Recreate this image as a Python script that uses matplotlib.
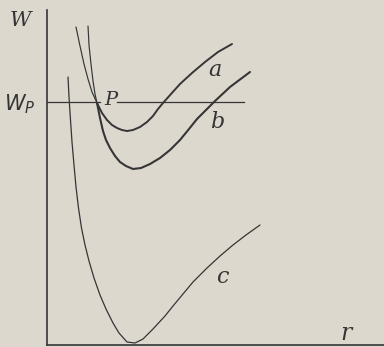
import matplotlib
matplotlib.use('Agg')
import matplotlib.pyplot as plt

# curves (r, W in arbitrary units)
r_a = [29, 33, 37, 41, 45, 50, 55, 60, 65, 70, 75, 80, 86, 93, 100, 106, 111, 116, 124, 133, 145, 158, 171, 185]
w_a = [318, 299, 281, 266, 253, 242, 232, 225, 220, 217, 215, 214, 215, 218, 223, 229, 236, 242, 251, 261, 272, 283, 293, 301]

r_b = [41, 42, 44, 46, 48, 50, 53, 56, 59, 63, 68, 73, 79, 86, 94, 103, 113, 123, 133, 142, 150, 159, 168, 183, 203]
w_b = [319, 300, 281, 264, 251, 242, 227, 214, 205, 197, 189, 183, 179, 176, 177, 181, 187, 195, 205, 216, 226, 235, 244, 258, 273]

r_c = [21, 22, 23.5, 25, 27, 29, 31.5, 34.5, 38, 42, 47, 53, 59, 66, 72, 80, 88, 96, 106, 118, 126, 136, 146, 160, 173, 186, 199, 213]
w_c = [268, 248, 225, 203, 180, 158, 137, 117, 100, 84, 67, 50, 36, 22, 12, 3, 2, 6, 16, 29, 39, 51, 63, 77, 89, 100, 110, 120]

w_p = 243

paper = '#dcd8ce'
ink = '#353535'


def draw_curve(ax, r, w, lw):
    # upper-left branch is drawn finer in the original, above the point P
    k = 6
    ax.plot(r[:k], w[:k], color=ink, lw=0.85, solid_joinstyle='round', solid_capstyle='round')
    ax.plot(r[k - 1:], w[k - 1:], color=ink, lw=lw, solid_joinstyle='round', solid_capstyle='round')


def main():
    fig = plt.figure(figsize=(3.84, 3.47), dpi=100)
    fig.patch.set_facecolor(paper)
    ax = fig.add_axes([47 / 384, 2 / 347, 337 / 384, 335 / 347])
    ax.set_facecolor(paper)

    draw_curve(ax, r_a, w_a, 1.4)
    draw_curve(ax, r_b, w_b, 1.5)
    ax.plot(r_c, w_c, color=ink, lw=0.9, solid_joinstyle='round', solid_capstyle='round')

    # W_P level, broken where the letter P sits
    ax.plot([0, 53], [w_p, w_p], color=ink, lw=0.9)
    ax.plot([70, 197], [w_p, w_p], color=ink, lw=0.9)

    ax.set_xlim(0, 337)
    ax.set_ylim(0, 335)
    for s in ['top', 'right']:
        ax.spines[s].set_visible(False)
    for s in ['left', 'bottom']:
        ax.spines[s].set_color(ink)
        ax.spines[s].set_linewidth(1.2)
    ax.set_xticks([])
    ax.set_yticks([])

    font = dict(family='DejaVu Serif', style='italic', color=ink, ha='center', va='center')
    ax.text(-27, 325, 'W', fontsize=15, clip_on=False, **font)
    ax.text(-27, 241, '$W_P$', fontsize=15, clip_on=False, **font)
    ax.text(64, 245, 'P', fontsize=14, **font)
    ax.text(168, 275, 'a', fontsize=16, **font)
    ax.text(170, 223, 'b', fontsize=16, **font)
    ax.text(175, 68, 'c', fontsize=16, **font)
    ax.text(299, 12, 'r', fontsize=17, **font)

    plt.savefig('out.png', dpi=100, facecolor=paper)


if __name__ == '__main__':
    main()
